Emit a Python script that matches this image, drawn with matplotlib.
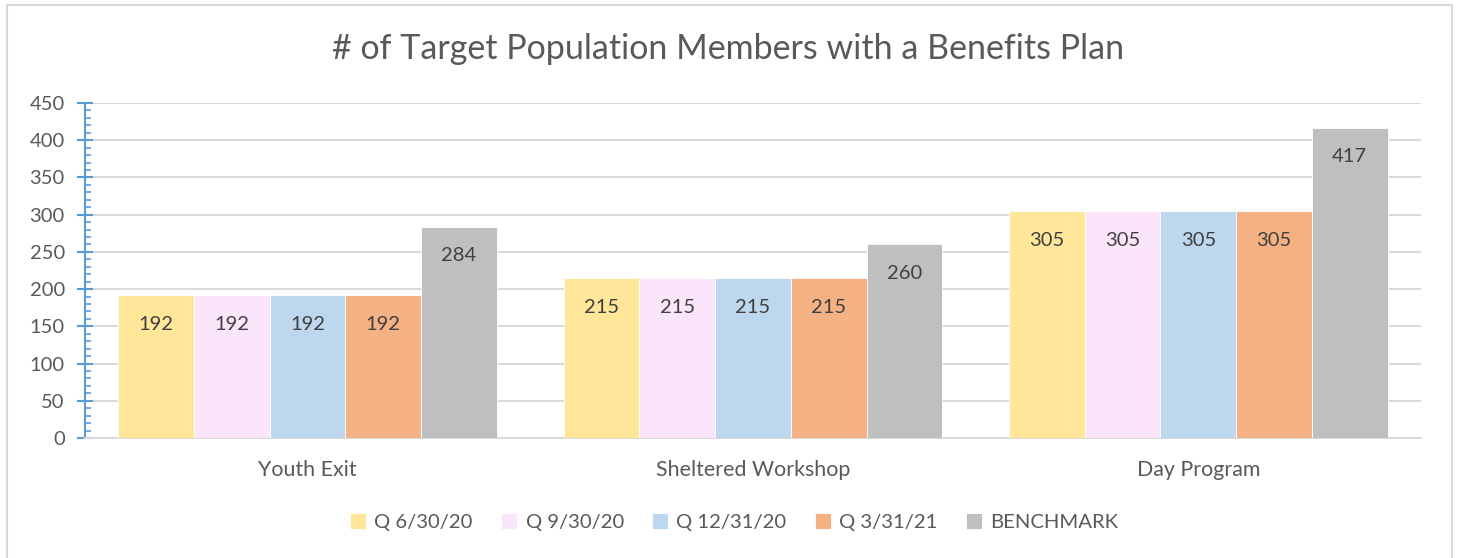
import numpy as np
import matplotlib.pyplot as plt
from matplotlib.patches import Rectangle
from matplotlib.ticker import MultipleLocator

# -----------------------------
# Data
# -----------------------------
categories = ["Youth Exit", "Sheltered Workshop", "Day Program"]
series_names = ["Q 6/30/20", "Q 9/30/20", "Q 12/31/20", "Q 3/31/21", "BENCHMARK"]
q_6_30_20 = [192, 215, 305]
q_9_30_20 = [192, 215, 305]
q_12_31_20 = [192, 215, 305]
q_3_31_21 = [192, 215, 305]
benchmark = [284, 260, 417]
colors = ["#FFE699", "#FBE5FB", "#BDD7EE", "#F4B183", "#BFBFBF"]

all_series = [q_6_30_20, q_9_30_20, q_12_31_20, q_3_31_21, benchmark]

plt.rcParams["font.family"] = ["Lato", "DejaVu Sans"]
TEXT = "#595959"

# -----------------------------
# Plot
# -----------------------------
fig = plt.figure(figsize=(14.57, 5.58), dpi=100)
ax = fig.add_axes([0.0583, 0.2151, 0.9170, 0.6003])

x = np.arange(len(categories))
width = 0.17
for i, (vals, name, col) in enumerate(zip(all_series, series_names, colors)):
    bars = ax.bar(x + (i - 2) * width, vals, width, color=col, label=name,
                  edgecolor="white", linewidth=0.6, zorder=3)
    for b, v in zip(bars, vals):
        ax.annotate(str(v), (b.get_x() + b.get_width() / 2, v),
                    xytext=(0, -21), textcoords="offset points",
                    ha="center", va="center", fontsize=14.5, color="#404040",
                    zorder=4)

ax.set_xlim(-0.5, 2.5)
ax.set_ylim(0, 450)
ax.yaxis.set_major_locator(MultipleLocator(50))
ax.yaxis.set_minor_locator(MultipleLocator(10))
ax.grid(axis="y", color="#D9D9D9", linewidth=1.4, zorder=0)
ax.set_axisbelow(True)

ax.set_xticks(x)
ax.set_xticklabels(categories)
ax.tick_params(axis="x", length=0, pad=16, labelsize=15.4, labelcolor=TEXT)
ax.tick_params(axis="y", which="major", direction="inout", length=11,
               width=1.5, color="#5B9BD5", labelsize=14.5, labelcolor=TEXT, pad=9)
ax.tick_params(axis="y", which="minor", direction="in", length=4,
               width=1.2, color="#5B9BD5")

for s in ["top", "right"]:
    ax.spines[s].set_visible(False)
ax.spines["left"].set_color("#5B9BD5")
ax.spines["left"].set_linewidth(1.5)
ax.spines["bottom"].set_color("#D9D9D9")
ax.spines["bottom"].set_linewidth(1.4)

fig.text(0.5, 1 - 49 / 558, "# of Target Population Members with a Benefits Plan",
         ha="center", va="center", fontsize=24.5, color=TEXT)

fig.legend(loc="center", bbox_to_anchor=(0.504, 1 - 522 / 558), ncol=5,
           frameon=False, fontsize=14.6, labelcolor=TEXT, handlelength=0.8,
           handleheight=0.8, handletextpad=0.4, columnspacing=1.4)

# chart border
fig.patches.append(Rectangle((7 / 1457, -0.05), 1445 / 1457, 1.05 - 5 / 558,
                             transform=fig.transFigure, fill=False,
                             edgecolor="#D9D9D9", linewidth=1.5))

plt.savefig("out.png", dpi=100)
